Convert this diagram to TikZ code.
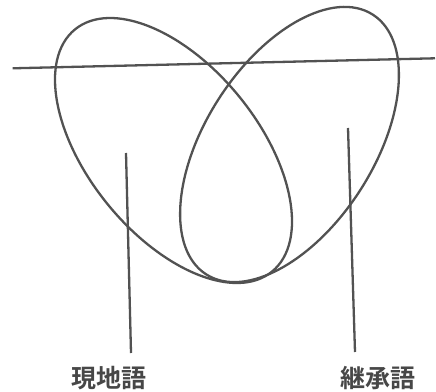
\documentclass[tikz,border=0pt]{standalone}
\usepackage{fontspec}
\newfontfamily\cjk{Noto Sans CJK JP Bold}
\begin{document}
\begin{tikzpicture}[x=1pt,y=1pt,
  ink/.style={draw=black!68, line width=2.3pt},
  lbl/.style={font=\cjk\fontsize{25}{28}\selectfont, text=black!72, inner sep=0pt}]
\useasboundingbox (0,0) rectangle (436,391);
% ellipses
\draw[ink, rotate around={-50.9:(173.5,240.5)}] (173.5,240.5) ellipse [x radius=156.1, y radius=85];
\draw[ink, rotate around={57.3:(289.5,246.5)}] (289.5,246.5) ellipse [x radius=154.3, y radius=84.2];
% horizontal line
\coordinate (hl) at (12.7,322.7);
\coordinate (hr) at (435,332.7);
\draw[ink] (hl) -- (hr);
% labels
\node[lbl] (L) at (109,13) {現地語};
\node[lbl] (R) at (378,13) {継承語};
\coordinate (lt) at (126,238);
\coordinate (lb) at (131,38);
\coordinate (rt) at (348,263);
\coordinate (rb) at (355,39);
\draw[ink] (lt) -- (lb);
\draw[ink] (rt) -- (rb);
\end{tikzpicture}
\end{document}
